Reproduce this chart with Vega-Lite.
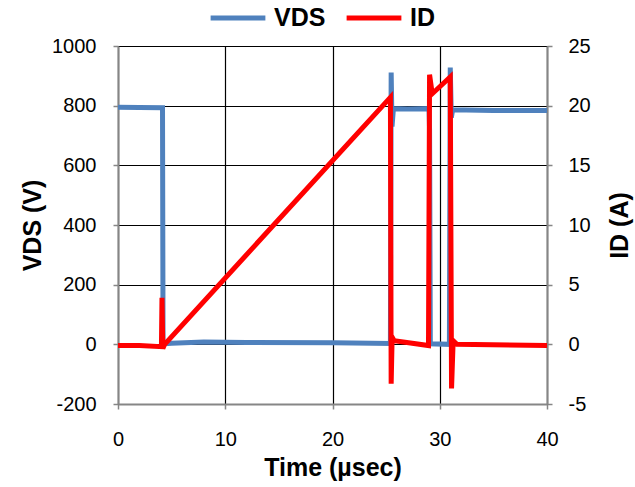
{
  "$schema": "https://vega.github.io/schema/vega-lite/v6.json",
  "width": 429,
  "height": 358,
  "autosize": {"type": "none"},
  "padding": {"left": 118, "top": 46, "right": 88, "bottom": 83},
  "background": "white",
  "config": {
    "view": {"stroke": null},
    "font": "Liberation Sans",
    "axis": {
      "labelFont": "Liberation Sans",
      "labelFontSize": 20,
      "labelColor": "black",
      "titleFont": "Liberation Sans",
      "titleFontSize": 25,
      "titleFontWeight": "bold",
      "titleColor": "black",
      "domainColor": "#868686",
      "domainWidth": 2,
      "tickColor": "#868686",
      "tickWidth": 1.5,
      "tickSize": 5,
      "gridColor": "black",
      "gridWidth": 1.2,
      "gridOpacity": 1
    }
  },
  "datasets": {
    "vds": [
      {"t": 0, "v": 795, "s": "VDS"},
      {"t": 2, "v": 794, "s": "VDS"},
      {"t": 4.15, "v": 793, "s": "VDS"},
      {"t": 4.2, "v": 2, "s": "VDS"},
      {"t": 5, "v": 4, "s": "VDS"},
      {"t": 8, "v": 8, "s": "VDS"},
      {"t": 12, "v": 6, "s": "VDS"},
      {"t": 20, "v": 5, "s": "VDS"},
      {"t": 25.4, "v": 3, "s": "VDS"},
      {"t": 25.47, "v": 911, "s": "VDS"},
      {"t": 25.55, "v": 730, "s": "VDS"},
      {"t": 25.68, "v": 790, "s": "VDS"},
      {"t": 27, "v": 789, "s": "VDS"},
      {"t": 29.0, "v": 790, "s": "VDS"},
      {"t": 29.05, "v": 720, "s": "VDS"},
      {"t": 29.12, "v": 2, "s": "VDS"},
      {"t": 30.9, "v": 0, "s": "VDS"},
      {"t": 30.98, "v": 928, "s": "VDS"},
      {"t": 31.08, "v": 760, "s": "VDS"},
      {"t": 31.2, "v": 786, "s": "VDS"},
      {"t": 35, "v": 784, "s": "VDS"},
      {"t": 40, "v": 784, "s": "VDS"}
    ],
    "id": [
      {"t": 0, "i": -0.1, "s": "ID"},
      {"t": 2, "i": -0.1, "s": "ID"},
      {"t": 4.05, "i": -0.2, "s": "ID"},
      {"t": 4.1, "i": 3.9, "s": "ID"},
      {"t": 4.18, "i": -0.35, "s": "ID"},
      {"t": 4.35, "i": 0, "s": "ID"},
      {"t": 25.4, "i": 20.7, "s": "ID"},
      {"t": 25.47, "i": -3.3, "s": "ID"},
      {"t": 25.56, "i": 0.6, "s": "ID"},
      {"t": 25.75, "i": 0.3, "s": "ID"},
      {"t": 28.95, "i": -0.1, "s": "ID"},
      {"t": 29.05, "i": 22.6, "s": "ID"},
      {"t": 29.3, "i": 21.0, "s": "ID"},
      {"t": 30.98, "i": 22.4, "s": "ID"},
      {"t": 31.1, "i": -3.7, "s": "ID"},
      {"t": 31.25, "i": 0.3, "s": "ID"},
      {"t": 31.6, "i": 0, "s": "ID"},
      {"t": 40, "i": -0.1, "s": "ID"}
    ]
  },
  "layer": [
    {
      "data": {"name": "vds"},
      "mark": {"type": "line", "strokeWidth": 5, "clip": true},
      "encoding": {
        "x": {
          "field": "t", "type": "quantitative",
          "scale": {"domain": [0, 40], "nice": false},
          "axis": {"values": [0, 10, 20, 30, 40], "title": "Time (µsec)", "labelFlush": false, "labelPadding": 20, "titlePadding": 6}
        },
        "y": {
          "field": "v", "type": "quantitative",
          "scale": {"domain": [-200, 1000], "nice": false},
          "axis": {
            "values": [-200, 0, 200, 400, 600, 800, 1000],
            "labelExpr": "datum.value < 0 ? '-' + abs(datum.value) : '' + datum.value",
            "title": "VDS (V)", "labelPadding": 17, "titlePadding": 6
          }
        },
        "color": {
          "field": "s", "type": "nominal",
          "scale": {"domain": ["VDS", "ID"], "range": ["#4F81BD", "#FF0000"]},
          "legend": {
            "orient": "none",
            "direction": "horizontal",
            "legendX": 90,
            "legendY": -58,
            "title": null,
            "symbolType": "stroke",
            "symbolSize": 3000,
            "symbolStrokeWidth": 5,
            "labelFont": "Liberation Sans",
            "labelFontSize": 25,
            "labelFontWeight": "bold",
            "labelColor": "black",
            "columnPadding": 10,
            "labelOffset": 6
          }
        }
      }
    },
    {
      "data": {"name": "id"},
      "mark": {"type": "line", "strokeWidth": 5, "clip": true},
      "encoding": {
        "x": {"field": "t", "type": "quantitative", "scale": {"domain": [0, 40], "nice": false}},
        "y": {
          "field": "i", "type": "quantitative",
          "scale": {"domain": [-5, 25], "nice": false},
          "axis": {
            "orient": "right", "values": [-5, 0, 5, 10, 15, 20, 25], "grid": false,
            "labelExpr": "datum.value < 0 ? '-' + abs(datum.value) : '' + datum.value",
            "title": "ID (A)", "titleAngle": 270, "labelPadding": 16, "titlePadding": 42
          }
        },
        "color": {"field": "s", "type": "nominal"}
      }
    }
  ],
  "resolve": {"scale": {"y": "independent"}}
}
